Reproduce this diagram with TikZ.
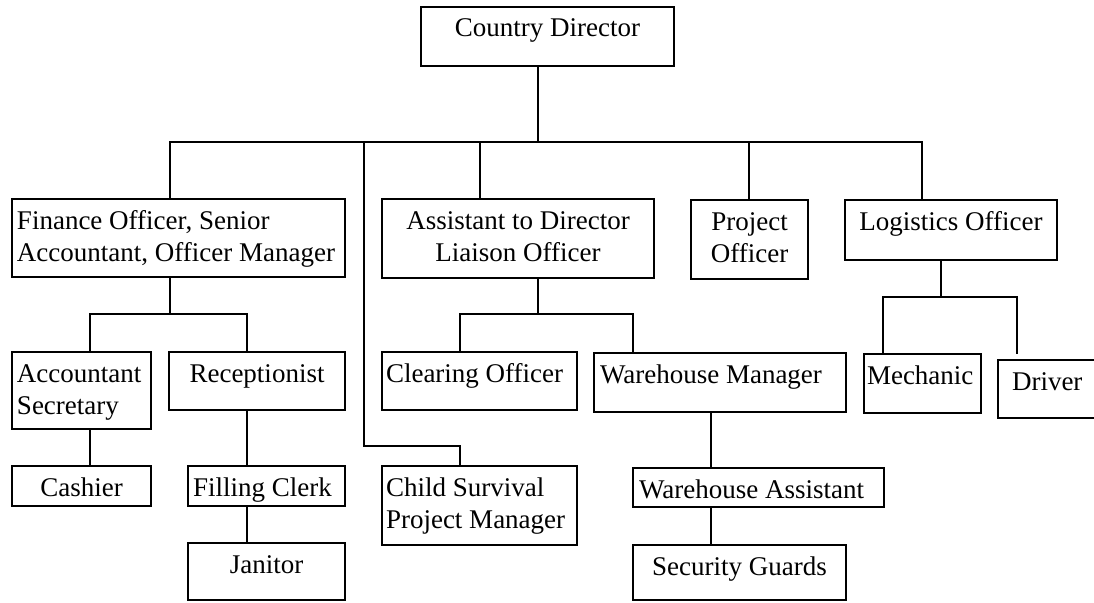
\documentclass[tikz,border=0pt]{standalone}
\usepackage{fontspec}
\setmainfont{Liberation Serif}
% box body: width, height, alignment, text (first baseline 30pt below the top edge)
\newcommand{\boxtxt}[4]{\parbox[c][#2][t]{#1}{#3\rule{0pt}{30pt}#4}}
\newcommand{\lft}[1]{\raggedright\leftskip=#1\relax}
\begin{document}
\begin{tikzpicture}[x=1pt,y=-1pt,
  orgbox/.style={draw, line width=1.5pt, inner sep=0pt, outer sep=0pt, anchor=north west,
    font=\fontsize{27}{32}\selectfont},
  conn/.style={draw, line width=1.1pt}]
\useasboundingbox (0,0) rectangle (1094,602);

% top level
\node[orgbox] (cd) at (421,7) {\boxtxt{253pt}{59pt}{\centering}{Country Director}};

% second level
\node[orgbox] (fin) at (12,199) {\boxtxt{333pt}{78pt}{\lft{5pt}}{Finance Officer, Senior\\Accountant, Officer Manager}};
\node[orgbox] (asst) at (382,199) {\boxtxt{272pt}{79pt}{\centering}{Assistant to Director\\Liaison Officer}};
\node[orgbox] (proj) at (691,200) {\boxtxt{117pt}{79pt}{\centering}{Project\\Officer}};
\node[orgbox] (logi) at (845,200) {\boxtxt{212pt}{60pt}{\centering}{Logistics Officer}};

% finance branch
\node[orgbox] (accsec) at (12,352) {\boxtxt{139pt}{77pt}{\lft{5pt}}{Accountant\\Secretary}};
\node[orgbox] (recep) at (169,352) {\boxtxt{176pt}{58pt}{\centering}{Receptionist}};
\node[orgbox] (cash) at (12,466) {\boxtxt{139pt}{40pt}{\centering}{Cashier}};
\node[orgbox] (fill) at (188,466) {\boxtxt{157pt}{40pt}{\lft{5pt}}{Filling Clerk}};
\node[orgbox] (jan) at (188,543) {\boxtxt{157pt}{57pt}{\centering}{Janitor}};

% assistant branch
\node[orgbox] (clear) at (382,352) {\boxtxt{195pt}{58pt}{\lft{4pt}}{Clearing Officer}};
\node[orgbox] (child) at (382,466) {\boxtxt{195pt}{79pt}{\lft{4pt}}{Child Survival\\Project Manager}};
\node[orgbox] (wm) at (594,353) {\boxtxt{252pt}{59pt}{\lft{6pt}}{Warehouse Manager}};
\node[orgbox] (wa) at (633,468) {\boxtxt{251pt}{39pt}{\lft{6pt}}{Warehouse Assistant}};
\node[orgbox] (sg) at (633,545) {\boxtxt{213pt}{55pt}{\centering}{Security Guards}};

% logistics branch
\node[orgbox] (mech) at (864,354) {\boxtxt{117pt}{59pt}{\lft{3pt}}{Mechanic}};
\node[orgbox] (drv) at (998,360) {\boxtxt{97pt}{58pt}{\lft{14pt}}{Driver}};

% junction points
\coordinate (t0) at (538,142);
\coordinate (bL) at (170,142);
\coordinate (bC) at (364,142);
\coordinate (bA) at (480,142);
\coordinate (bP) at (749,142);
\coordinate (bR) at (922,142);
\coordinate (cK) at (364,446);
\coordinate (cK2) at (460,446);
\coordinate (f1) at (170,314);
\coordinate (fa) at (90,314);
\coordinate (fb) at (247,314);
\coordinate (a1) at (538,314);
\coordinate (aa) at (460,314);
\coordinate (ab) at (633,314);
\coordinate (wx) at (711,412);
\coordinate (l1) at (941,297);
\coordinate (la) at (883,297);
\coordinate (lb) at (1017,297);
\coordinate (dtop) at (1017,354);

% director to second level
\draw[conn] (t0 |- cd.south) -- (t0);
\draw[conn] (bL |- fin.north) -- (bL) -- (bR) -- (bR |- logi.north);
\draw[conn] (bA) -- (bA |- asst.north);
\draw[conn] (bP) -- (bP |- proj.north);
\draw[conn] (bC) -- (cK) -- (cK2) -- (cK2 |- child.north);

% finance connectors
\draw[conn] (f1 |- fin.south) -- (f1);
\draw[conn] (fa |- accsec.north) -- (fa) -- (fb) -- (fb |- recep.north);
\draw[conn] (fa |- accsec.south) -- (fa |- cash.north);
\draw[conn] (fb |- recep.south) -- (fb |- fill.north);
\draw[conn] (fb |- fill.south) -- (fb |- jan.north);

% assistant connectors
\draw[conn] (a1 |- asst.south) -- (a1);
\draw[conn] (aa |- clear.north) -- (aa) -- (ab) -- (ab |- wm.north);
\draw[conn] (wx |- wm.south) -- (wx |- wa.north);
\draw[conn] (wx |- wa.south) -- (wx |- sg.north);

% logistics connectors
\draw[conn] (l1 |- logi.south) -- (l1);
\draw[conn] (la |- mech.north) -- (la) -- (lb) -- (dtop);
\end{tikzpicture}
\end{document}
